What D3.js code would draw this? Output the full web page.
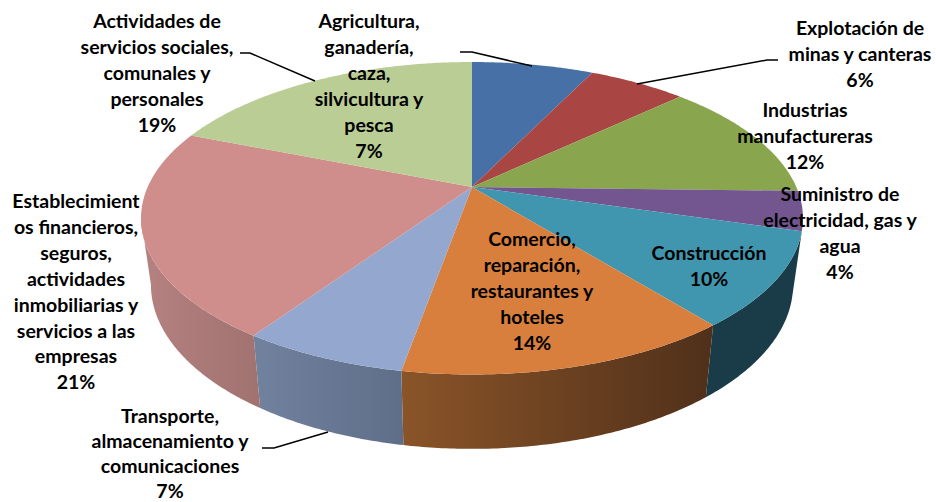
<!DOCTYPE html>
<html><head><meta charset="utf-8">
<style>html,body{margin:0;padding:0;background:#fff}svg{display:block}
text{font-family:Lato,"Open Sans",sans-serif;font-weight:700;font-size:19.5px;fill:#000;text-anchor:middle;dominant-baseline:central}</style>
<script src="https://cdn.jsdelivr.net/npm/d3@7"></script>
</head><body><div id="c"></div>
<script>
const categories=["Agricultura, ganadería, caza, silvicultura y pesca","Explotación de minas y canteras","Industrias manufactureras","Suministro de electricidad, gas y agua","Construcción","Comercio, reparación, restaurantes y hoteles","Transporte, almacenamiento y comunicaciones","Establecimientos financieros, seguros, actividades inmobiliarias y servicios a las empresas","Actividades de servicios sociales, comunales y personales"];
const values=[7.2,5.8,12.4,4.1,9.7,13.6,6.7,21.5,19];
const topColors=["#4771a6","#a94543","#89a64f","#73568f","#3f96ae","#d87f3d","#93a7cf","#cf8e8c","#b9cd94"];
const wallStart=["#2e4a6c","#6e2d2c","#5a6c33","#4b385d","#1a3b48","#8a5428","#71829f","#b58280","#78855f"];
const wallEnd=["#2e4a6c","#6e2d2c","#5a6c33","#4b385d","#1a3b48","#50301a","#5f6e88","#a07270","#78855f"];
const labelLines=[
 ["Agricultura,","ganadería,","caza,","silvicultura y","pesca","7%"],
 ["Explotación de","minas y canteras","6%"],
 ["Industrias","manufactureras","12%"],
 ["Suministro de","electricidad, gas y","agua","4%"],
 ["Construcción","10%"],
 ["Comercio,","reparación,","restaurantes y","hoteles","14%"],
 ["Transporte,","almacenamiento y","comunicaciones","7%"],
 ["Establecimient","os financieros,","seguros,","actividades","inmobiliarias y","servicios a las","empresas","21%"],
 ["Actividades de","servicios sociales,","comunales y","personales","19%"]];

const W=936,H=502,cx=472,cy=187,R=324.3,S=150,k=0.2;
const labelPos=[[369,20],[860,27],[805,109],[840,193],[709,252],[532,238],[170,415],[76,200],[157,20]];
const labelGap=[25.9,25.9,25.9,25.9,25.9,25.9,25,25.9,25.9];
const leaders=[
 {i:0,pts:[[460,52],[472,52],[532,66]]},
 {i:1,pts:[[637,84],[767,60],[778,60]]},
 {i:6,pts:[[262,448],[274,448],[328,432]]},
 {i:8,pts:[[240,53],[250,53],[315,81]]}];

function proj(a){const x=Math.sin(a),y=-Math.cos(a),w=1-k*y;return [cx+R*x/w,cy+S*y/w];}
function projB(a){const p=proj(a);return [cx+0.97*(p[0]-cx),cy+65+1.05*(p[1]-cy)];}
const pie=d3.pie().sort(null).value(d=>d)(values);
const line=d3.line();
function arcPts(f,a0,a1){const n=Math.max(2,Math.ceil((a1-a0)/0.01));return d3.range(n+1).map(i=>f(a0+(a1-a0)*i/n));}

const svg=d3.select("#c").append("svg").attr("width",W).attr("height",H);
const defs=svg.append("defs");
const thR=Math.acos(-k),thL=2*Math.PI-thR;

pie.forEach((d,i)=>{
  const mid=(d.startAngle+d.endAngle)/2;
  if(mid<thR||mid>thL)return;
  const a0=Math.max(d.startAngle,thR),a1=Math.min(d.endAngle,thL);
  const t=arcPts(proj,a0,a1),b=arcPts(projB,a0,a1).reverse();
  const xs=t.concat(b).map(p=>p[0]);
  const id="w"+i;
  const g=defs.append("linearGradient").attr("id",id).attr("gradientUnits","userSpaceOnUse")
    .attr("x1",d3.min(xs)).attr("x2",d3.max(xs)).attr("y1",0).attr("y2",0);
  g.append("stop").attr("offset",0).attr("stop-color",wallStart[i]);
  g.append("stop").attr("offset",1).attr("stop-color",wallEnd[i]);
  svg.append("path").attr("d",line(t.concat(b))+"Z").attr("fill",`url(#${id})`);
});
pie.forEach((d,i)=>{
  const pts=[[cx,cy]].concat(arcPts(proj,d.startAngle,d.endAngle));
  svg.append("path").attr("d",line(pts)+"Z").attr("fill",topColors[i]);
});
leaders.forEach(l=>svg.append("path").attr("d",line(l.pts)).attr("fill","none").attr("stroke","#000").attr("stroke-width",1.5));
labelLines.forEach((lines,i)=>{
  const t=svg.append("text");
  lines.forEach((s,j)=>t.append("tspan").attr("x",labelPos[i][0]).attr("y",labelPos[i][1]+j*labelGap[i]).text(s));
});
</script></body></html>
